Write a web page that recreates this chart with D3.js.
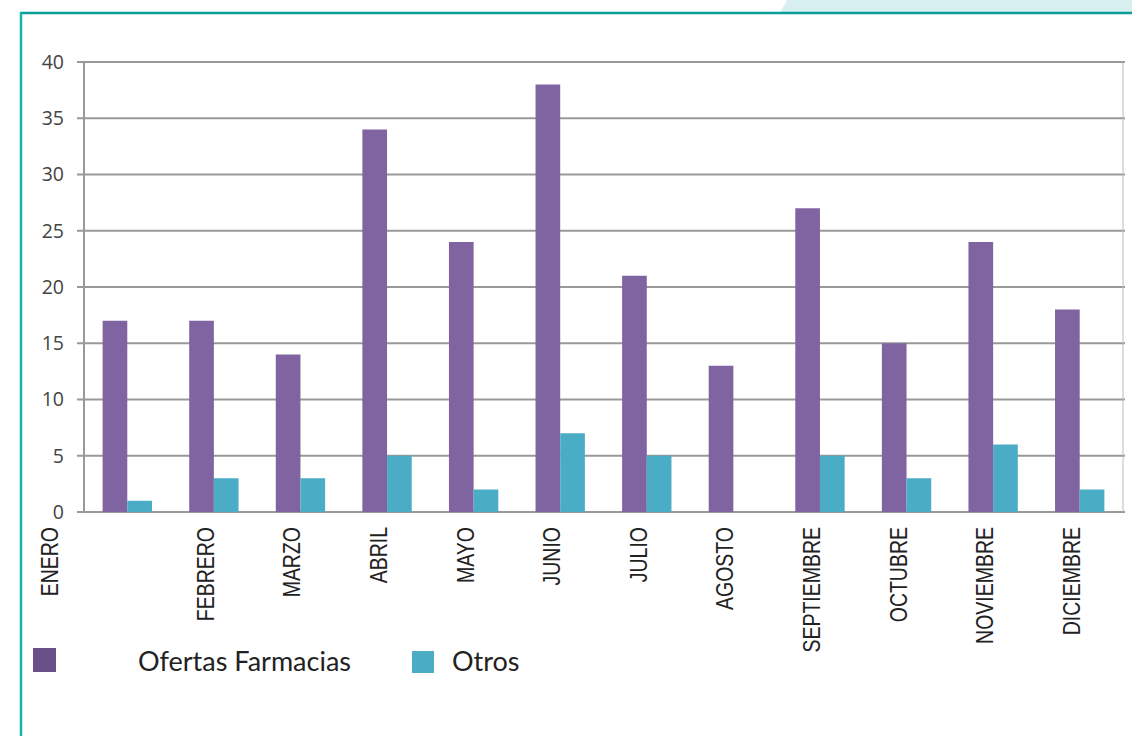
<!DOCTYPE html>
<html>
<head>
<meta charset="utf-8">
<script src="https://cdn.jsdelivr.net/npm/d3@7"></script>
<style>
  body { margin: 0; background: #fff; }
  svg { display: block; }
</style>
</head>
<body>
<svg width="1132" height="736"></svg>
<script>
// data
var meses = ['ENERO', 'FEBRERO', 'MARZO', 'ABRIL', 'MAYO', 'JUNIO', 'JULIO', 'AGOSTO', 'SEPTIEMBRE', 'OCTUBRE', 'NOVIEMBRE', 'DICIEMBRE'];
var ofertasFarmacias = [17, 17, 14, 34, 24, 38, 21, 13, 27, 15, 24, 18];
var otros = [1, 3, 3, 5, 2, 7, 5, 0, 5, 3, 6, 2];
var series = ['Ofertas Farmacias', 'Otros'];
var yTicks = [0, 5, 10, 15, 20, 25, 30, 35, 40];

var svg = d3.select('svg');
var plotLeft = 84, plotRight = 1123, plotTop = 62, plotBottom = 512;

// frame
svg.append('path')
  .attr('d', 'M787,0 L1132,0 L1132,13 L780,13 Z')
  .attr('fill', '#d8eff0');
svg.append('line').attr('x1', 20).attr('x2', 1132).attr('y1', 13).attr('y2', 13)
  .attr('stroke', '#0a9e96').attr('stroke-width', 2.5);
svg.append('line').attr('x1', 21).attr('x2', 21).attr('y1', 12).attr('y2', 736)
  .attr('stroke', '#14b2ab').attr('stroke-width', 2.5);

var x = d3.scaleBand().domain(meses).range([plotLeft, plotRight]).paddingInner(0.43).paddingOuter(0.215);
var xs = d3.scaleBand().domain(series).range([0, x.bandwidth()]);
var y = d3.scaleLinear().domain([0, 40]).range([plotBottom, plotTop]);

// grid
svg.append('g').selectAll('line').data(yTicks).enter().append('line')
  .attr('x1', plotLeft - 7).attr('x2', plotRight + 2)
  .attr('y1', function(d) { return y(d); })
  .attr('y2', function(d) { return y(d); })
  .attr('stroke', '#999').attr('stroke-width', 2);
svg.append('line').attr('x1', plotLeft).attr('x2', plotLeft).attr('y1', plotTop).attr('y2', plotBottom)
  .attr('stroke', '#999').attr('stroke-width', 2);
svg.append('line').attr('x1', plotRight).attr('x2', plotRight).attr('y1', plotTop).attr('y2', plotBottom)
  .attr('stroke', '#bbb').attr('stroke-width', 1);

svg.append('g').selectAll('text').data(yTicks).enter().append('text')
  .attr('x', 64).attr('y', function(d) { return y(d); })
  .attr('dy', '0.35em')
  .attr('text-anchor', 'end')
  .attr('font-family', 'Open Sans')
  .attr('font-size', 19.5)
  .attr('fill', '#444')
  .text(function(d) { return d; });

// bars
var colors = { 'Ofertas Farmacias': '#8064a2', 'Otros': '#4bacc6' };
var legendColors = { 'Ofertas Farmacias': '#6a5088', 'Otros': '#4bacc6' };
var rows = meses.map(function(m, i) {
  return [{ mes: m, s: 'Ofertas Farmacias', v: ofertasFarmacias[i] }, { mes: m, s: 'Otros', v: otros[i] }];
});
svg.append('g').selectAll('g').data(rows).enter().append('g')
  .attr('transform', function(d) { return 'translate(' + x(d[0].mes) + ',0)'; })
  .selectAll('rect').data(function(d) { return d; }).enter().append('rect')
  .attr('x', function(d) { return xs(d.s); })
  .attr('width', xs.bandwidth())
  .attr('y', function(d) { return y(d.v); })
  .attr('height', function(d) { return y(0) - y(d.v); })
  .attr('fill', function(d) { return colors[d.s]; });

// month labels (ENERO sits by itself next to the 0 tick in the original)
svg.append('g').selectAll('text').data(meses).enter().append('text')
  .attr('transform', function(d, i) {
    var cx = i === 0 ? plotLeft - 26 : x(d) + x.bandwidth() / 2;
    return 'translate(' + cx + ',527) rotate(-90) scale(1,1.2)';
  })
  .attr('text-anchor', 'end')
  .attr('font-family', 'Liberation Sans, Arial, sans-serif')
  .attr('font-size', 19.5)
  .attr('fill', '#222')
  .text(function(d) { return d; });

// legend
var leg = [
  { s: series[0], bx: 33, by: 648, bw: 23, bh: 24, tx: 138 },
  { s: series[1], bx: 412, by: 651, bw: 22, bh: 22, tx: 452 }
];
var lg = svg.append('g').selectAll('g').data(leg).enter().append('g');
lg.append('rect')
  .attr('x', function(d) { return d.bx; }).attr('y', function(d) { return d.by; })
  .attr('width', function(d) { return d.bw; }).attr('height', function(d) { return d.bh; })
  .attr('fill', function(d) { return legendColors[d.s]; });
lg.append('text')
  .attr('x', function(d) { return d.tx; }).attr('y', 671)
  .attr('font-family', 'Lato')
  .attr('font-size', 27)
  .attr('fill', '#222')
  .text(function(d) { return d.s; });
</script>
</body>
</html>
